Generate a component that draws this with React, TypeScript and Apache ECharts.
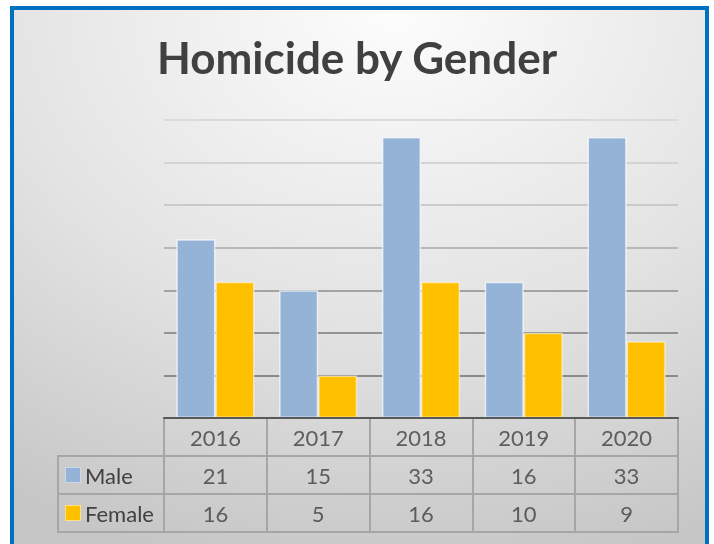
import React, { useEffect, useRef } from "react";
import * as echarts from "echarts";

const categories = ["2016", "2017", "2018", "2019", "2020"];
const seriesNames = ["Male", "Female"];
const maleValues = [21, 15, 33, 16, 33];
const femaleValues = [16, 5, 16, 10, 9];
const colors = ["#95b3d7", "#ffc000"];
const squareBorders = ["#c9d8ea", "#ffe07f"];
const tableRows = ["year", ...seriesNames];

const TEXT = "#404040";
const FONT = "Lato, 'Open Sans', sans-serif";
const GRID_COLORS = ["#7f7f7f", "#8a8a8a", "#939393", "#a3a3a3", "#b8b8b8", "#cacaca", "#d3d3d3", "#dadada"];

export default function App() {
  const ref = useRef<HTMLDivElement>(null);
  useEffect(() => {
    if (!ref.current) return;
    const chart = echarts.init(ref.current, null, { renderer: "svg" });
    const tableData: any[] = [];
    categories.forEach((c, i) => {
      tableData.push([c, "year", c]);
      tableData.push([c, "Male", maleValues[i]]);
      tableData.push([c, "Female", femaleValues[i]]);
    });
    const option: any = {
      animation: false,
      textStyle: { fontFamily: FONT },
      title: {
        text: "Homicide by Gender",
        left: "center",
        top: 30,
        textStyle: { fontSize: 44, fontWeight: "bold", color: TEXT, fontFamily: FONT },
      },
      graphic: [
        {
          type: "rect",
          z: -100,
          silent: true,
          shape: { x: 12, y: 8, width: 695, height: 545 },
          style: {
            fill: new echarts.graphic.RadialGradient(0.55, 0.0, 1.05, [
              { offset: 0, color: "#fdfdfd" },
              { offset: 0.55, color: "#e3e3e3" },
              { offset: 1, color: "#c6c6c6" },
            ]),
            stroke: "#0070c0",
            lineWidth: 4,
          },
        },
      ],
      grid: [
        { left: 164, right: 36, top: 120, bottom: 126, show: false },
        { left: 164, right: 36, top: 418, bottom: 12, show: true, borderColor: "#a6a6a6", borderWidth: 2, backgroundColor: "transparent" },
        { left: 58, width: 106, top: 456, bottom: 12, show: true, borderColor: "#a6a6a6", borderWidth: 2, backgroundColor: "transparent" },
      ],
      xAxis: [
        {
          gridIndex: 0,
          type: "category",
          data: categories,
          axisLine: { show: true, lineStyle: { color: "#595959", width: 2 } },
          axisTick: { show: false },
          axisLabel: { show: false },
          z: 10,
        },
        {
          gridIndex: 1,
          type: "category",
          data: categories,
          axisLine: { show: false },
          axisTick: { show: false },
          axisLabel: { show: false },
          splitLine: { show: true, lineStyle: { color: "#a6a6a6", width: 2 } },
        },
        {
          gridIndex: 2,
          type: "category",
          data: ["legend"],
          axisLine: { show: false },
          axisTick: { show: false },
          axisLabel: { show: false },
        },
      ],
      yAxis: [
        {
          gridIndex: 0,
          type: "value",
          min: 0,
          max: 35,
          interval: 5,
          axisLine: { show: false },
          axisTick: { show: false },
          axisLabel: { show: false },
          splitLine: { show: true, lineStyle: { color: GRID_COLORS, width: 2 } },
        },
        {
          gridIndex: 1,
          type: "category",
          data: tableRows,
          inverse: true,
          axisLine: { show: false },
          axisTick: { show: false },
          axisLabel: { show: false },
          splitLine: { show: true, lineStyle: { color: "#a6a6a6", width: 2 } },
        },
        {
          gridIndex: 2,
          type: "category",
          data: seriesNames,
          inverse: true,
          axisLine: { show: false },
          axisTick: { show: false },
          splitLine: { show: true, lineStyle: { color: "#a6a6a6", width: 2 } },
          axisLabel: {
            show: true,
            inside: true,
            margin: 8,
            formatter: (v: string, i: number) => `{sq${i}|}{t|${v}}`,
            rich: {
              sq0: { width: 14, height: 14, backgroundColor: colors[0], borderColor: squareBorders[0], borderWidth: 1 },
              sq1: { width: 14, height: 14, backgroundColor: colors[1], borderColor: squareBorders[1], borderWidth: 1 },
              t: { fontSize: 22, color: TEXT, fontFamily: FONT, padding: [0, 0, 0, 5] },
            },
          },
        },
      ],
      series: [
        {
          name: seriesNames[0],
          type: "bar",
          xAxisIndex: 0,
          yAxisIndex: 0,
          data: maleValues,
          barGap: "0%",
          barCategoryGap: "24%",
          itemStyle: { color: colors[0], borderColor: "rgba(255,255,255,0.65)", borderWidth: 1.5 },
        },
        {
          name: seriesNames[1],
          type: "bar",
          xAxisIndex: 0,
          yAxisIndex: 0,
          data: femaleValues,
          barGap: "0%",
          barCategoryGap: "24%",
          itemStyle: { color: colors[1], borderColor: "rgba(255,255,255,0.5)", borderWidth: 1.5 },
        },
        {
          type: "scatter",
          xAxisIndex: 1,
          yAxisIndex: 1,
          symbolSize: 0,
          data: tableData,
          label: {
            show: true,
            position: "inside",
            formatter: (p: any) => String(p.value[2]),
            fontSize: 22,
            color: TEXT,
            fontFamily: FONT,
          },
          silent: true,
        },
      ],
    };
    chart.setOption(option);
    return () => chart.dispose();
  }, []);
  return <div ref={ref} style={{ position: "fixed", left: 0, top: 0, width: 714, height: 544 }} />;
}
